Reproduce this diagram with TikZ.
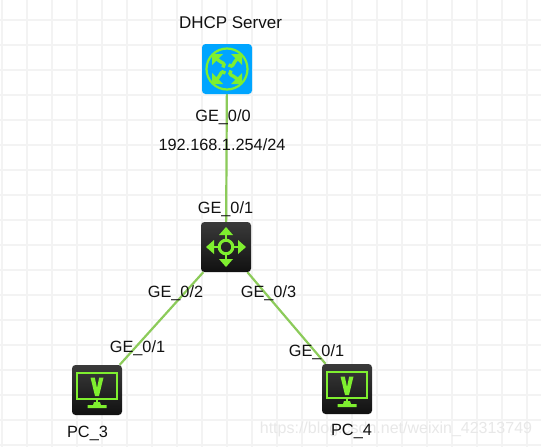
\documentclass[tikz,border=0pt]{standalone}
\usepackage{fontspec}
\setmainfont{Liberation Sans}
\usetikzlibrary{backgrounds}
\definecolor{gridc}{HTML}{F3F3F3}
\definecolor{linkc}{HTML}{8CCB5A}
\definecolor{iconc}{HTML}{7FEF2F}
\definecolor{skyc}{HTML}{00A5FF}
\definecolor{txtc}{HTML}{111111}
\definecolor{markc}{HTML}{E8E8E8}
\definecolor{boxtop}{HTML}{3A3A3A}
\definecolor{boxbot}{HTML}{111111}
\tikzset{
  x=1pt,y=-1pt,
  lbl/.style={font=\fontsize{16.3}{18}\selectfont,text=txtc,inner sep=0pt,anchor=base},
  devbox/.style={minimum size=50pt,inner sep=0pt,rounded corners=3.5pt,draw=none},
  darkbox/.style={devbox,top color=boxtop,bottom color=boxbot},
  bluebox/.style={devbox,fill=skyc},
  link/.style={draw=linkc,line width=2.2pt},
  glyph/.style={draw=iconc,line width=2.6pt},
  pics/router/.style={code={
    \draw[glyph,line width=2.2pt] (0,0) circle[radius=20.5];
    \foreach \ang in {0,90,180,270}{
      \begin{scope}[rotate=\ang]
        \fill[iconc] (15,-15) -- (15,-4) -- (4,-15) -- cycle;
        \draw[glyph,line width=3.4pt] (10,-10) .. controls (5,-5) and (7,-1) .. (1.5,-4);
      \end{scope}
    }
  }},
  pics/hub/.style={code={
    \draw[glyph,line width=3pt] (0,0) circle[radius=6.8];
    \foreach \ang in {0,90,180,270}{
      \begin{scope}[rotate=\ang]
        \draw[glyph] (8,0) -- (13,0);
        \fill[iconc] (20,0) -- (12,-7) -- (12,7) -- cycle;
      \end{scope}
    }
  }},
  pics/screen/.style={code={
    \draw[glyph,line width=2.6pt] (-20,-17) rectangle (20,9);
    \fill[iconc] (-6.5,-12.5) -- (-2.2,-12.5) -- (0,-2) -- (2.2,-12.5) -- (6.5,-12.5) -- (2,6) -- (-2,6) -- cycle;
    \fill[iconc] (-1,9) rectangle (1,13);
    \fill[iconc] (-3,12) -- (3,12) -- (4,15) -- (9.5,15) -- (9.5,18) -- (-9.5,18) -- (-9.5,15) -- (-4,15) -- cycle;
  }}
}
\begin{document}
\begin{tikzpicture}
\useasboundingbox (0,0) rectangle (541,447);

\node[lbl,text=markc,font=\fontsize{16}{18}\selectfont] (wm) at (396,433) {https://blog.csdn.net/weixin\_42313749};

\node[bluebox] (srv) at (227,69) {};
\node[darkbox] (sw) at (226,247) {};
\node[darkbox] (pca) at (97,390) {};
\node[darkbox] (pcb) at (347,389) {};

\begin{scope}[on background layer]
  \fill[white] (0,0) rectangle (541,447);
  \foreach \gx in {2,27,...,527}{\draw[gridc,line width=2pt] (\gx,0) -- (\gx,447);}
  \foreach \gy in {20,45,...,445}{\draw[gridc,line width=2pt] (0,\gy) -- (541,\gy);}
  \draw[link] (srv) -- (sw);
  \draw[link] (sw) -- (pca);
  \draw[link] (sw) -- (pcb);
\end{scope}

\pic at (srv) {router};
\pic at (sw) {hub};
\pic at (pca) {screen};
\pic at (pcb) {screen};

\node[lbl,font=\fontsize{17}{19}\selectfont] (t1) at (230.5,28) {DHCP Server};
\node[lbl] (t2) at (223,121) {GE\_0/0};
\node[lbl] (t3) at (222,150) {192.168.1.254/24};
\node[lbl] (t4) at (225.5,213) {GE\_0/1};
\node[lbl] (t5) at (175.5,297) {GE\_0/2};
\node[lbl] (t6) at (268.5,297) {GE\_0/3};
\node[lbl] (t7) at (137.5,352) {GE\_0/1};
\node[lbl] (t8) at (316.5,356) {GE\_0/1};
\node[lbl] (t9) at (87.5,437) {PC\_3};
\node[lbl] (t10) at (351.5,435) {PC\_4};
\end{tikzpicture}
\end{document}
